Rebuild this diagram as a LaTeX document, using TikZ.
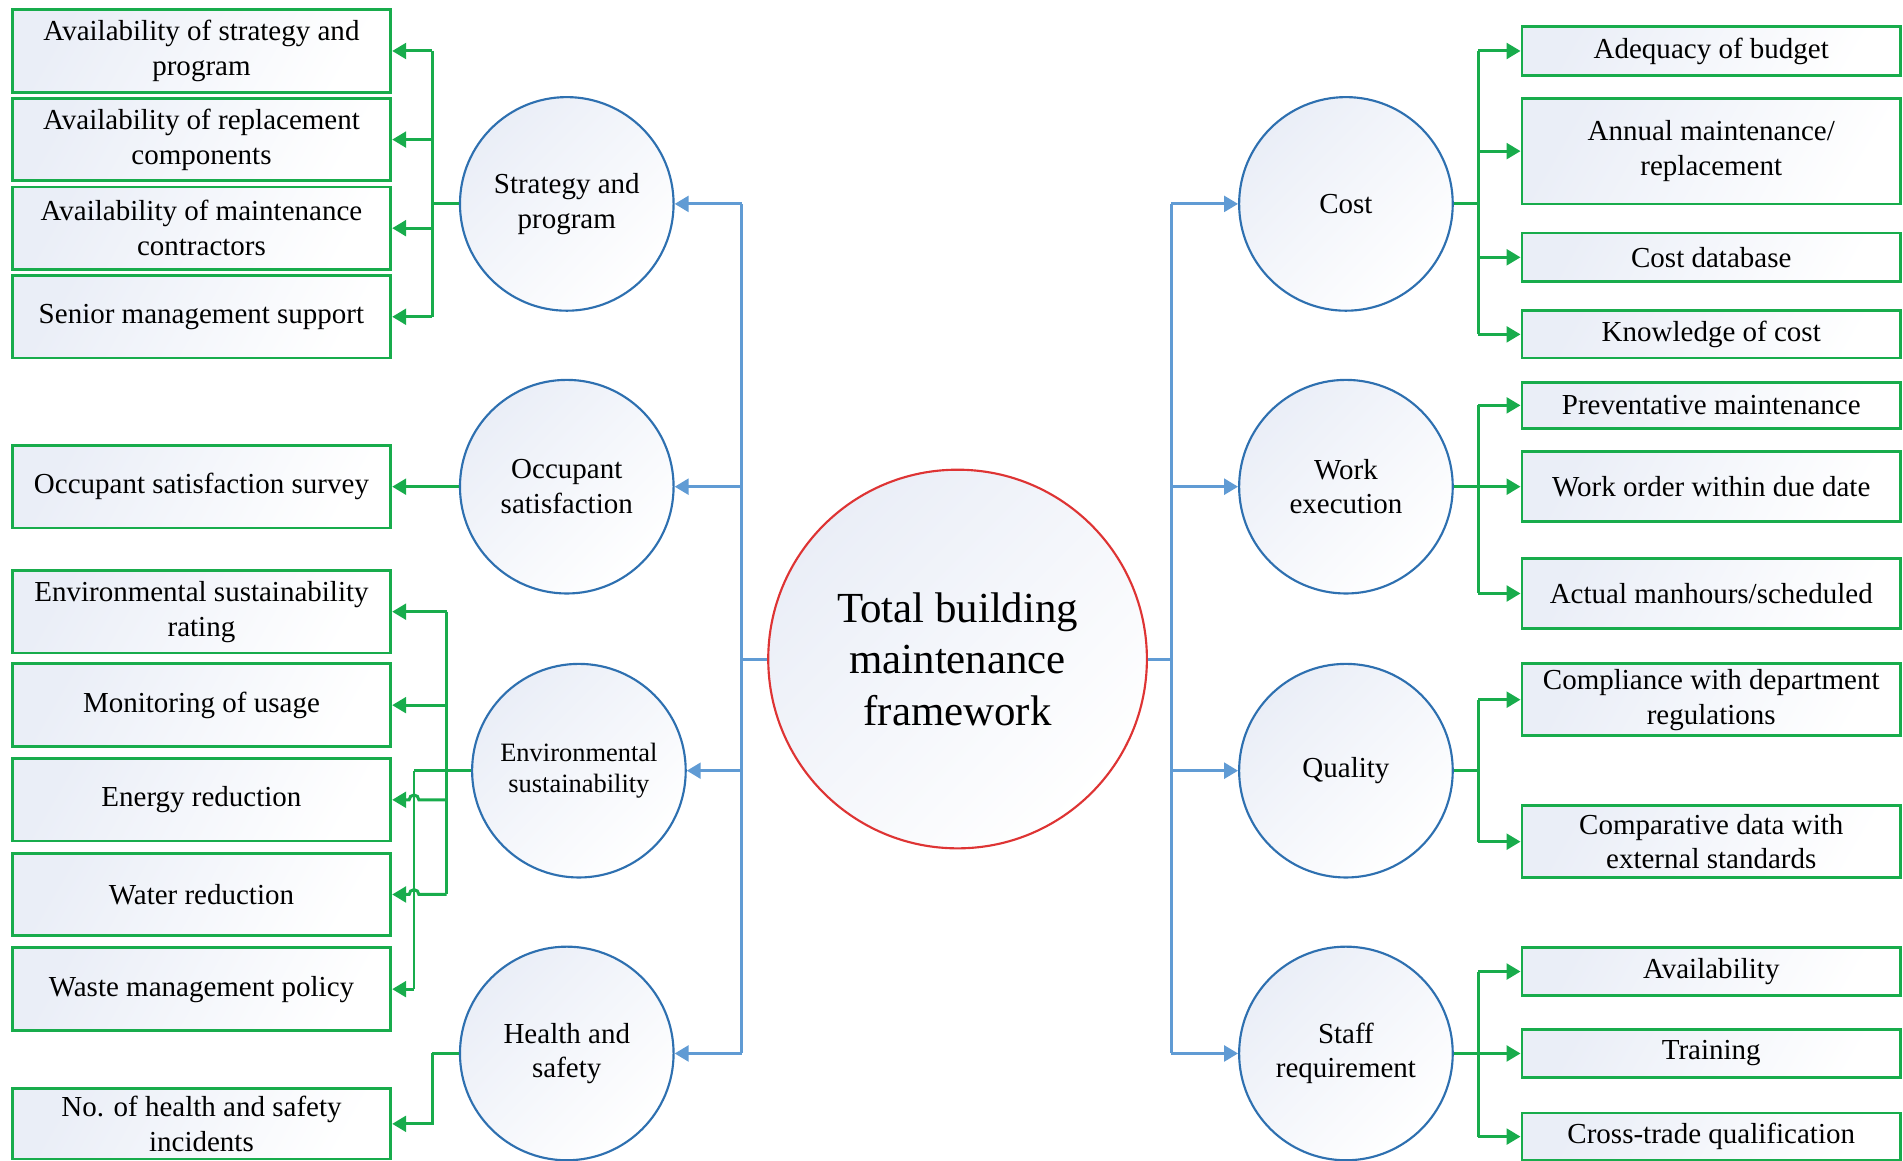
\documentclass[tikz,border=0pt]{standalone}
\usepackage{fontspec}
\setmainfont{Liberation Serif}
\usetikzlibrary{arrows.meta}
\definecolor{leafgreen}{RGB}{24,172,76}
\definecolor{linkblue}{RGB}{96,155,212}
\definecolor{ringblue}{RGB}{46,112,176}
\definecolor{corered}{RGB}{222,52,52}
\definecolor{paleblue}{RGB}{234,238,247}

\begin{document}
\begin{tikzpicture}[x=0.2mm, y=-0.2mm,
  font=\fontsize{13.6}{16.3}\selectfont,
  leaf/.style={draw=leafgreen, line width=1.3pt, top color=paleblue, bottom color=white, shading angle=60,
    minimum width=6.24cm, inner sep=0pt, align=center},
  ring/.style={circle, draw=ringblue, line width=1pt, top color=paleblue, bottom color=white, shading angle=45,
    minimum size=3.52cm, inner sep=0pt, align=center},
  gline/.style={leafgreen, line width=1.4pt},
  bline/.style={linkblue, line width=1.4pt},
  >={Triangle[length=2.3mm, width=2.6mm]}]
\useasboundingbox (0,0) rectangle (1568,956);

\node[ring, draw=corered, minimum size=6.24cm, font=\fontsize{20.1}{24.2}\selectfont] (total) at (789,543) {Total building\\maintenance\\framework};

\node[ring] (strat) at (467,168) {Strategy and\\program};
\node[ring] (occ) at (467,401) {Occupant\\satisfaction};
\node[ring, font=\fontsize{12.4}{14.8}\selectfont] (env) at (477,635) {Environmental\\sustainability};
\node[ring] (health) at (467,868) {Health and\\safety};
\node[ring] (cost) at (1109,168) {Cost};
\node[ring] (work) at (1109,401) {Work\\execution};
\node[ring] (qual) at (1109,635) {Quality};
\node[ring] (staff) at (1109,868) {Staff\\requirement};

\node[leaf, minimum height=13.6mm] (sp1) at (166,42) {Availability of strategy and\\program};
\node[leaf, minimum height=13.6mm] (sp2) at (166,115) {Availability of replacement\\components};
\node[leaf, minimum height=13.6mm] (sp3) at (166,188) {Availability of maintenance\\contractors};
\node[leaf, minimum height=13.6mm] (sp4) at (166,261) {Senior management support};
\node[leaf, minimum height=13.6mm] (os1) at (166,401) {Occupant satisfaction survey};
\node[leaf, minimum height=13.6mm] (es1) at (166,504) {Environmental sustainability\\rating};
\node[leaf, minimum height=13.6mm] (es2) at (166,581) {Monitoring of usage};
\node[leaf, minimum height=13.6mm] (es3) at (166,659) {Energy reduction};
\node[leaf, minimum height=13.6mm] (es4) at (166,737) {Water reduction};
\node[leaf, minimum height=13.6mm] (es5) at (166,815) {Waste management policy};
\node[leaf, minimum height=11.6mm] (hs1) at (166,926) {No. of health and safety\\incidents};

\node[leaf, minimum height=8mm] (c1) at (1410,42) {Adequacy of budget};
\node[leaf, minimum height=17.4mm] (c2) at (1410,124.5) {Annual maintenance/\\replacement};
\node[leaf, minimum height=8mm] (c3) at (1410,212) {Cost database};
\node[leaf, minimum height=7.8mm] (c4) at (1410,275.5) {Knowledge of cost};
\node[leaf, minimum height=7.6mm] (w1) at (1410,334) {Preventative maintenance};
\node[leaf, minimum height=11.6mm] (w2) at (1410,401) {Work order within due date};
\node[leaf, minimum height=11.6mm] (w3) at (1410,489) {Actual manhours/scheduled};
\node[leaf, minimum height=11.8mm] (q1) at (1410,576.5) {Compliance with department\\regulations};
\node[leaf, minimum height=11.8mm] (q2) at (1410,693.5) {Comparative data with\\external standards};
\node[leaf, minimum height=7.8mm] (s1) at (1410,800.5) {Availability};
\node[leaf, minimum height=7.8mm] (s2) at (1410,868) {Training};
\node[leaf, minimum height=7.8mm] (s3) at (1410,936.5) {Cross-trade qualification};

\coordinate (lb) at (611,543);
\coordinate (rb) at (965,543);
\draw[bline] (total.west) -- (lb);
\draw[bline] (lb |- strat.east) -- (lb |- health.east);
\draw[bline,->] (lb |- strat.east) -- (strat.east);
\draw[bline,->] (lb |- occ.east) -- (occ.east);
\draw[bline,->] (lb |- env.east) -- (env.east);
\draw[bline,->] (lb |- health.east) -- (health.east);
\draw[bline] (total.east) -- (rb);
\draw[bline] (rb |- cost.west) -- (rb |- staff.west);
\draw[bline,->] (rb |- cost.west) -- (cost.west);
\draw[bline,->] (rb |- work.west) -- (work.west);
\draw[bline,->] (rb |- qual.west) -- (qual.west);
\draw[bline,->] (rb |- staff.west) -- (staff.west);

\draw[gline] (strat.west) -- ++(-22,0) coordinate (sb);
\draw[gline] (sb |- sp1.east) -- (sb |- sp4.east);
\draw[gline,->] (sb |- sp1.east) -- (sp1.east);
\draw[gline,->] (sb |- sp2.east) -- (sp2.east);
\draw[gline,->] (sb |- sp3.east) -- (sp3.east);
\draw[gline,->] (sb |- sp4.east) -- (sp4.east);

\draw[gline,->] (occ.west) -- (os1.east);

\draw[gline] (env.west) -- ++(-47,0) coordinate (eb2);
\coordinate (eb1) at (368,635);
\draw[gline] (eb1 |- es1.east) -- (eb1 |- es4.east);
\draw[gline] (eb2) -- (eb2 |- es5.east);
\draw[gline,->] (eb1 |- es1.east) -- (es1.east);
\draw[gline,->] (eb1 |- es2.east) -- (es2.east);
\draw[gline,->] (eb1 |- es3.east) -- ([xshift=0.8mm]eb2 |- es3.east) arc[start angle=0, end angle=180, radius=0.8mm] -- (es3.east);
\draw[gline,->] (eb1 |- es4.east) -- ([xshift=0.8mm]eb2 |- es4.east) arc[start angle=0, end angle=180, radius=0.8mm] -- (es4.east);
\draw[gline,->] (eb2 |- es5.east) -- (es5.east);

\draw[gline] (health.west) -- ++(-22,0) coordinate (hb);
\draw[gline,->] (hb) |- (hs1.east);

\draw[gline] (cost.east) -- ++(20,0) coordinate (cb);
\draw[gline] (cb |- c1.west) -- (cb |- c4.west);
\draw[gline,->] (cb |- c1.west) -- (c1.west);
\draw[gline,->] (cb |- c2.west) -- (c2.west);
\draw[gline,->] (cb |- c3.west) -- (c3.west);
\draw[gline,->] (cb |- c4.west) -- (c4.west);

\draw[gline] (work.east) -- ++(20,0) coordinate (wb);
\draw[gline] (wb |- w1.west) -- (wb |- w3.west);
\draw[gline,->] (wb |- w1.west) -- (w1.west);
\draw[gline,->] (wb |- w2.west) -- (w2.west);
\draw[gline,->] (wb |- w3.west) -- (w3.west);

\draw[gline] (qual.east) -- ++(20,0) coordinate (qb);
\draw[gline] (qb |- q1.west) -- (qb |- q2.west);
\draw[gline,->] (qb |- q1.west) -- (q1.west);
\draw[gline,->] (qb |- q2.west) -- (q2.west);

\draw[gline] (staff.east) -- ++(20,0) coordinate (stb);
\draw[gline] (stb |- s1.west) -- (stb |- s3.west);
\draw[gline,->] (stb |- s1.west) -- (s1.west);
\draw[gline,->] (stb |- s2.west) -- (s2.west);
\draw[gline,->] (stb |- s3.west) -- (s3.west);
\end{tikzpicture}
\end{document}
